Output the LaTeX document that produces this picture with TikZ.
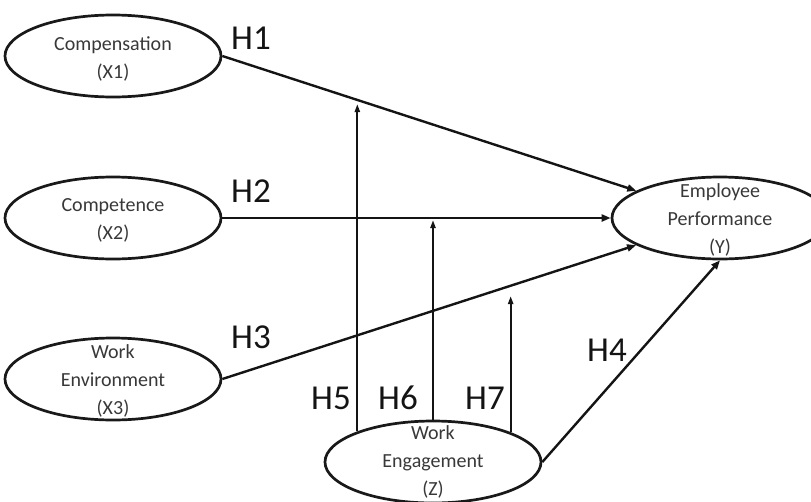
\documentclass[tikz,border=0pt]{standalone}
\usepackage{fontspec}
\setmainfont{Carlito}
\usetikzlibrary{shapes.geometric,arrows.meta}
\begin{document}
\begin{tikzpicture}[x=1pt,y=-1pt,
  ell/.style={draw=black!90,line width=2.7pt,ellipse,minimum width=216pt,minimum height=82pt,inner sep=0pt},
  etext/.style={text=black!78,font=\fontsize{20}{28}\selectfont,align=center,inner sep=0pt},
  hlab/.style={text=black!92,font=\fontsize{35}{40}\selectfont,inner sep=0pt},
  arr/.style={draw=black!92,line width=2.4pt,-{Triangle[length=9pt,width=7pt]}},
  varr/.style={draw=black!92,line width=2.2pt,-{Triangle[length=8pt,width=5pt]}}]
\useasboundingbox (0,0) rectangle (811,501);
\begin{scope}
\clip (0,0) rectangle (811,501);
\node[ell] (X1) at (113,56) {};
\node[ell] (X2) at (113,218) {};
\node[ell] (X3) at (113,379) {};
\node[ell] (Y) at (720,218) {};
\node[ell] (Z) at (433,462) {};
\end{scope}
\node[etext] (tX1) at (113,59) {Compensation\\(X1)};
\node[etext] (tX2) at (113,220) {Competence\\(X2)};
\node[etext] (tX3) at (113,381) {Work\\Environment\\(X3)};
\node[etext] (tY) at (720,220) {Employee\\Performance\\(Y)};
\node[etext] (tZ) at (433,462) {Work\\Engagement\\(Z)};
\node[hlab] (H1) at (251,38) {H1};
\node[hlab] (H2) at (251,191) {H2};
\node[hlab] (H3) at (251,337) {H3};
\node[hlab] (H4) at (607,350) {H4};
\node[hlab] (H5) at (331,398) {H5};
\node[hlab] (H6) at (398,398) {H6};
\node[hlab] (H7) at (485,398) {H7};
\draw[arr] (X1.east) -- (Y);
\draw[arr] (X2.east) -- (Y.west);
\draw[arr] (X3.east) -- (Y);
\draw[arr] (Z.east) -- (Y.south);
\coordinate (t5) at (357,104);
\coordinate (t6) at (432,220);
\coordinate (t7) at (510,296);
\draw[varr] (Z.158.5) -- (Z.158.5 |- t5);
\draw[varr] (Z.north) -- (Z.north |- t6);
\draw[varr] (Z.21.5) -- (Z.21.5 |- t7);
\end{tikzpicture}
\end{document}
